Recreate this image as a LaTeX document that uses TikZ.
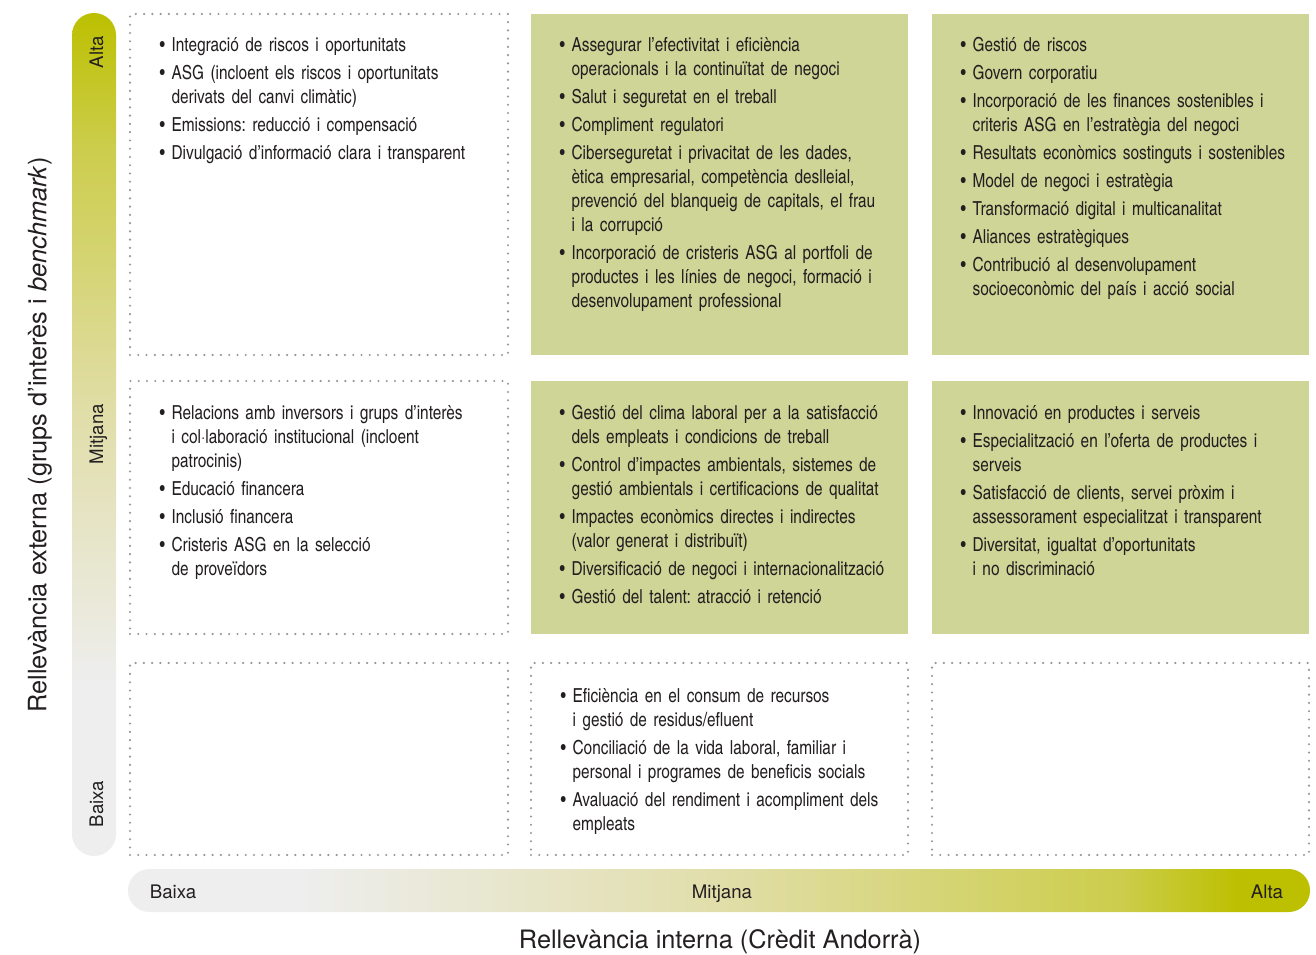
\documentclass[tikz,border=0pt]{standalone}
\usepackage{fontspec}
\setmainfont{TeX Gyre Heros}
\newfontfamily\cnfont[WordSpace=0.7,FakeStretch=0.97]{texgyreheroscn-regular.otf}
\usetikzlibrary{fit,positioning}
\definecolor{mtgreen}{RGB}{207,213,151}
\definecolor{mtdot}{RGB}{150,150,150}
\definecolor{mttext}{RGB}{35,31,32}
\definecolor{barhi}{RGB}{188,192,0}
\definecolor{barup}{RGB}{204,205,76}
\definecolor{barmid}{RGB}{225,222,170}
\definecolor{barlo}{RGB}{238,238,239}
\pgfdeclarehorizontalshading{hbarshade}{100bp}{color(0bp)=(barlo); color(32bp)=(barlo); color(50bp)=(barmid); color(67bp)=(barup); color(72bp)=(barhi); color(100bp)=(barhi)}
\pgfdeclareverticalshading{vbarshade}{100bp}{color(0bp)=(barlo); color(35bp)=(barlo); color(51bp)=(barmid); color(67bp)=(barup); color(75bp)=(barhi); color(100bp)=(barhi)}
\newenvironment{mtlist}{\begin{list}{\textbullet}{\setlength{\leftmargin}{8.5pt}\setlength{\labelwidth}{5pt}\setlength{\labelsep}{5pt}\setlength{\itemsep}{3pt}\setlength{\parsep}{0pt}\setlength{\topsep}{0pt}\setlength{\partopsep}{0pt}}}{\end{list}}
\tikzset{
  cellbox/.style={draw=mtdot,line width=1.8pt,dash pattern=on 0pt off 6.2pt,line cap=round,inner sep=0pt},
  cellfill/.style={fill=mtgreen,draw=none,inner sep=0pt},
  items/.style={anchor=base west,inner sep=0pt,text width=262pt,align=left,text=mttext,font=\cnfont\frenchspacing\fontsize{14.5}{18}\selectfont},
  barlabel/.style={anchor=base,inner sep=0pt,text=mttext,font=\fontsize{14}{16}\selectfont},
  axistitle/.style={text=mttext,font=\fontsize{19}{22}\selectfont},
}
\begin{document}
\begin{tikzpicture}[x=0.75pt,y=-0.75pt]
  \useasboundingbox (0,0) rectangle (1316,955);

  % scale bars
  \shade[shading=vbarshade,rounded corners=16.5pt] (72,13) rectangle (116,856);
  \shade[shading=hbarshade,rounded corners=16pt] (128,869) rectangle (1310,912);
  \node[barlabel,rotate=90] (yhigh) at (103,52) {Alta};
  \node[barlabel,rotate=90] (ymid) at (103,434) {Mitjana};
  \node[barlabel,rotate=90] (ylow) at (103,804) {Baixa};
  \node[barlabel] (xlow) at (173,898) {Baixa};
  \node[barlabel] (xmid) at (722,898) {Mitjana};
  \node[barlabel] (xhigh) at (1267,898) {Alta};

  \node[axistitle,rotate=90] (ytitle) at (40,435) {Rellevància externa (grups d’interès i \textit{benchmark})};
  \node[axistitle] (xtitle) at (720,942) {Rellevància interna (Crèdit Andorrà)};

  % matrix cells
  \node[cellbox,fit={(130,14) (508,355)}] (c11) {};
  \node[cellfill,fit={(531,14) (908,355)}] (c21) {};
  \node[cellfill,fit={(932,14) (1309,355)}] (c31) {};
  \node[cellbox,fit={(130,381) (508,634)}] (c12) {};
  \node[cellfill,fit={(531,381) (908,634)}] (c22) {};
  \node[cellfill,fit={(932,381) (1309,634)}] (c32) {};
  \node[cellbox,fit={(130,663) (508,855)}] (c13) {};
  \node[cellbox,fit={(531,663) (908,855)}] (c23) {};
  \node[cellbox,fit={(932,663) (1309,855)}] (c33) {};

  % high external relevance
  \node[items] (t11) at (160,28) {\begin{mtlist}
    \item Integració de riscos i oportunitats
    \item ASG (incloent els riscos i oportunitats\\ derivats del canvi climàtic)
    \item Emissions: reducció i compensació
    \item Divulgació d’informació clara i transparent
  \end{mtlist}};
  \node[items] (t21) at (560,28) {\begin{mtlist}
    \item Assegurar l’efectivitat i eficiència\\ operacionals i la continuïtat de negoci
    \item Salut i seguretat en el treball
    \item Compliment regulatori
    \item Ciberseguretat i privacitat de les dades,\\ ètica empresarial, competència deslleial,\\ prevenció del blanqueig de capitals, el frau\\ i la corrupció
    \item Incorporació de cristeris ASG al portfoli de\\ productes i les línies de negoci, formació i\\ desenvolupament professional
  \end{mtlist}};
  \node[items] (t31) at (961,28) {\begin{mtlist}
    \item Gestió de riscos
    \item Govern corporatiu
    \item Incorporació de les finances sostenibles i\\ criteris ASG en l’estratègia del negoci
    \item Resultats econòmics sostinguts i sostenibles
    \item Model de negoci i estratègia
    \item Transformació digital i multicanalitat
    \item Aliances estratègiques
    \item Contribució al desenvolupament\\ socioeconòmic del país i acció social
  \end{mtlist}};

  % medium external relevance
  \node[items] (t12) at (160,395) {\begin{mtlist}
    \item Relacions amb inversors i grups d’interès\\ i col·laboració institucional (incloent\\ patrocinis)
    \item Educació financera
    \item Inclusió financera
    \item Cristeris ASG en la selecció\\ de proveïdors
  \end{mtlist}};
  \node[items] (t22) at (560,395) {\begin{mtlist}
    \item Gestió del clima laboral per a la satisfacció\\ dels empleats i condicions de treball
    \item Control d’impactes ambientals, sistemes de\\ gestió ambientals i certificacions de qualitat
    \item Impactes econòmics directes i indirectes\\ (valor generat i distribuït)
    \item Diversificació de negoci i internacionalització
    \item Gestió del talent: atracció i retenció
  \end{mtlist}};
  \node[items] (t32) at (961,395) {\begin{mtlist}
    \item Innovació en productes i serveis
    \item Especialització en l’oferta de productes i\\ serveis
    \item Satisfacció de clients, servei pròxim i\\ assessorament especialitzat i transparent
    \item Diversitat, igualtat d’oportunitats\\ i no discriminació
  \end{mtlist}};

  % low external relevance
  \node[items] (t23) at (561,678) {\begin{mtlist}
    \item Eficiència en el consum de recursos\\ i gestió de residus/efluent
    \item Conciliació de la vida laboral, familiar i\\ personal i programes de beneficis socials
    \item Avaluació del rendiment i acompliment dels\\ empleats
  \end{mtlist}};
\end{tikzpicture}
\end{document}
